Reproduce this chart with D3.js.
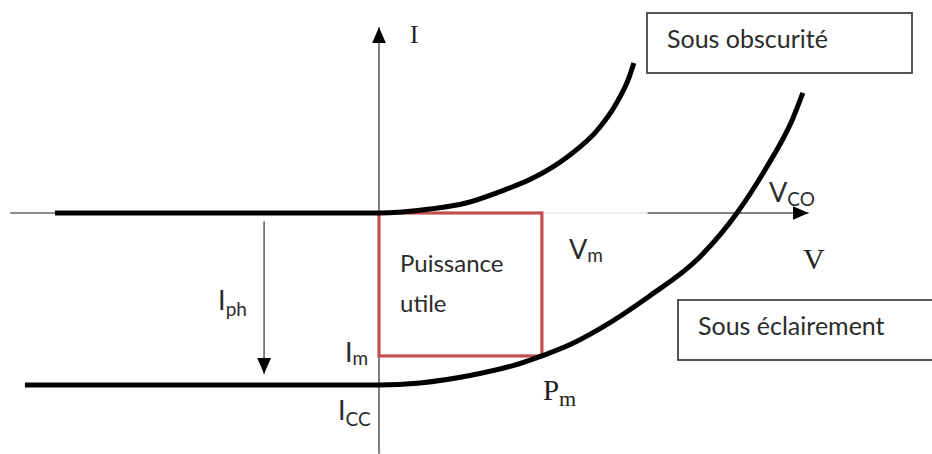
<!DOCTYPE html>
<html lang="fr">
<head>
<meta charset="UTF-8">
<title>Caractéristique I(V) d'une cellule photovoltaïque</title>
<script src="https://d3js.org/d3.v7.min.js"></script>
<style>
  body { margin: 0; background: #fff; }
  svg { display: block; background: #fff; }
  .lbl { font-family: Lato, 'Open Sans', sans-serif; fill: #2b2b2b; }
  .serif { font-family: 'Liberation Serif', 'DejaVu Serif', serif; fill: #222; }
</style>
</head>
<body>
<script>
var width = 932, height = 454;

// courbe sous obscurité (V, I)
var darkV = [-9.05, 0, 1.42, 2.43, 3.35, 4.30, 5.22, 6.15, 6.62, 6.98, 7.12];
var darkI = [0, 0, 0.23, 0.58, 1.22, 2.03, 3.20, 4.94, 6.34, 7.85, 8.72];

// courbe sous éclairement (V, I)
var lightV = [-9.89, 0, 1.15, 2.54, 3.94, 4.55, 5.34, 6.15, 7.54, 8.94, 10, 10.81, 11.56, 11.84];
var lightI = [-10, -10, -9.88, -9.45, -8.75, -8.31, -7.65, -6.75, -4.85, -2.6, 0, 2.6, 5.5, 6.98];

// points caractéristiques
var Vm = 4.55, Im = -8.31, Vco = 10, Icc = -10;
var axisV = [-10.3, 12.0], axisI = [-14.0, 10.8];
var axisFade = 7.5;
var IphRange = [-0.5, -9.35], IphV = -3.21;

var x = d3.scaleLinear().domain([0, 10]).range([379, 737]);
var y = d3.scaleLinear().domain([0, -10]).range([213, 385]);

var svg = d3.select('body').append('svg')
    .attr('width', width)
    .attr('height', height);

// arrowheads
var defs = svg.append('defs');
defs.append('marker')
    .attr('id', 'head')
    .attr('markerUnits', 'userSpaceOnUse')
    .attr('viewBox', '0 0 16 14')
    .attr('refX', 16).attr('refY', 7)
    .attr('markerWidth', 16).attr('markerHeight', 14)
    .attr('orient', 'auto')
  .append('path')
    .attr('d', 'M0,0 L16,7 L0,14 Z')
    .attr('fill', '#000');

// axes
svg.append('line')
    .attr('x1', x(axisV[0])).attr('x2', x(Vm))
    .attr('y1', y(0)).attr('y2', y(0))
    .attr('stroke', '#666').attr('stroke-width', 1.5);
svg.append('line')
    .attr('x1', x(Vm)).attr('x2', x(axisFade))
    .attr('y1', y(0)).attr('y2', y(0))
    .attr('stroke', '#e6dcdc').attr('stroke-width', 1.2);
svg.append('line')
    .attr('x1', x(axisFade)).attr('x2', x(axisV[1]))
    .attr('y1', y(0)).attr('y2', y(0))
    .attr('stroke', '#555').attr('stroke-width', 1.5)
    .attr('marker-end', 'url(#head)');

svg.append('line')
    .attr('x1', x(0)).attr('x2', x(0))
    .attr('y1', y(axisI[0])).attr('y2', y(axisI[1]))
    .attr('stroke', '#555').attr('stroke-width', 1.5)
    .attr('marker-end', 'url(#head)');

// Iph arrow
svg.append('line')
    .attr('x1', x(IphV)).attr('x2', x(IphV))
    .attr('y1', y(IphRange[0])).attr('y2', y(IphRange[1]))
    .attr('stroke', '#555').attr('stroke-width', 1.5)
    .attr('marker-end', 'url(#head)');

// puissance utile
svg.append('rect')
    .attr('x', x(0))
    .attr('y', y(0))
    .attr('width', x(Vm) - x(0))
    .attr('height', y(Im) - y(0))
    .attr('fill', 'none')
    .attr('stroke', '#c0504d')
    .attr('stroke-width', 3.2);

// curves
var line = d3.line()
    .x(function(d) { return x(d[0]); })
    .y(function(d) { return y(d[1]); })
    .curve(d3.curveMonotoneX);

svg.append('path')
    .attr('d', line(d3.zip(darkV, darkI)))
    .attr('fill', 'none')
    .attr('stroke', '#000')
    .attr('stroke-width', 5);

svg.append('path')
    .attr('d', line(d3.zip(lightV, lightI)))
    .attr('fill', 'none')
    .attr('stroke', '#000')
    .attr('stroke-width', 5);

// boxes
function box(x0, y0, w, h, label) {
    svg.append('rect')
        .attr('x', x0).attr('y', y0)
        .attr('width', w).attr('height', h)
        .attr('fill', '#fff')
        .attr('stroke', '#444')
        .attr('stroke-width', 1.8);
    svg.append('text')
        .attr('class', 'lbl')
        .attr('x', x0 + 20).attr('y', y0 + 35)
        .style('font-size', '25px')
        .text(label);
}
box(647, 13, 265, 60, 'Sous obscurité');
box(678, 300, 260, 60, 'Sous éclairement');

// labels with subscripts
function sub(cls, px, py, main, s, size, subSize, dy) {
    var t = svg.append('text')
        .attr('class', cls)
        .attr('x', px).attr('y', py)
        .style('font-size', size + 'px');
    t.append('tspan').text(main);
    if (s) {
        t.append('tspan')
            .attr('dy', dy)
            .style('font-size', subSize + 'px')
            .text(s);
    }
}

sub('serif', x(0) + 31, 43, 'I', null, 25);
sub('serif', 803, 269, 'V', null, 30);
sub('serif', x(Vm) + 1, 400, 'P', 'm', 29, 22, 6);
sub('lbl', x(Vco) + 32, 202, 'V', 'CO', 27, 19, 4);
sub('lbl', x(Vm) + 27, 259, 'V', 'm', 27, 19, 3);
sub('lbl', x(IphV) - 46, 310, 'I', 'ph', 27, 19, 6);
sub('lbl', x(0) - 34, y(Im) + 6, 'I', 'm', 27, 19, 3);
sub('lbl', x(0) - 41, y(Icc) + 35, 'I', 'CC', 27, 19, 6);

svg.append('text')
    .attr('class', 'lbl')
    .attr('x', x(0) + 21).attr('y', 272)
    .style('font-size', '24px')
    .text('Puissance');
svg.append('text')
    .attr('class', 'lbl')
    .attr('x', x(0) + 21).attr('y', 312)
    .style('font-size', '24px')
    .text('utile');
</script>
</body>
</html>
